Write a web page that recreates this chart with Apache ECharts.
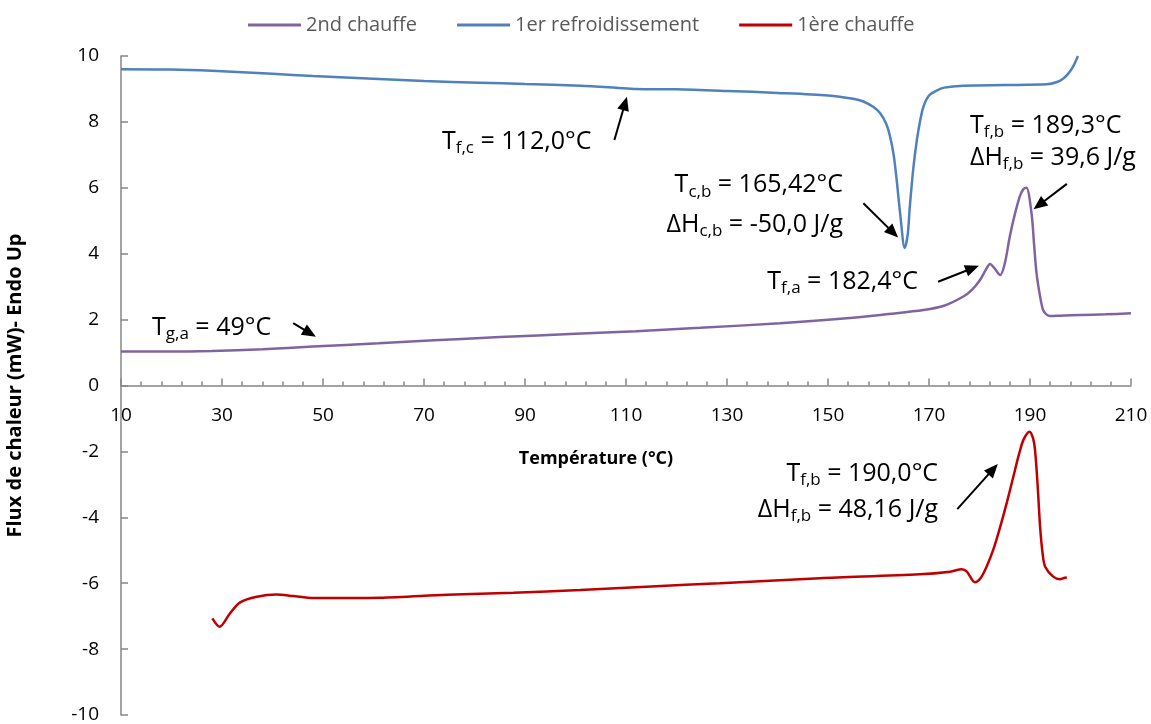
<!DOCTYPE html>
<html>
<head>
<meta charset="utf-8">
<script src="https://cdn.jsdelivr.net/npm/echarts@6/dist/echarts.min.js"></script>
<style>
html,body{margin:0;padding:0;background:#fff;}
#chart{width:1151px;height:724px;}
</style>
</head>
<body>
<div id="chart"></div>
<script>
// ---- Data ----
const seriesNames = ['2nd chauffe', '1er refroidissement', '1ère chauffe'];

// 2nd chauffe (purple)
const chauffe2T = [10, 20, 28, 38, 48, 61, 72, 85, 100, 112, 124.7, 140.5, 153.7, 162, 168.9, 173, 176.8, 178.5, 180.1, 181.2, 182.1, 183, 184.1, 185, 186, 187, 188, 188.7, 189.3, 190.3, 190.8, 191.3, 192, 192.6, 193.3, 194, 196, 200, 205, 210];
const chauffe2Flux = [1.03, 1.03, 1.05, 1.10, 1.18, 1.28, 1.37, 1.47, 1.57, 1.65, 1.75, 1.89, 2.04, 2.17, 2.29, 2.42, 2.70, 2.90, 3.20, 3.50, 3.69, 3.55, 3.35, 3.70, 4.52, 5.20, 5.75, 5.96, 6.00, 5.23, 4.30, 3.40, 2.70, 2.29, 2.15, 2.11, 2.12, 2.14, 2.16, 2.19];

// 1er refroidissement (blue)
const refroidT = [10, 20, 28, 40, 48, 61, 70, 81, 90, 101, 108, 112, 120, 130, 140, 150, 155, 157, 159, 160.3, 161.5, 162.3, 163, 163.6, 164.3, 165.2, 165.8, 166.2, 166.9, 167.6, 168.2, 168.9, 170, 171.5, 173, 176.8, 185, 193.3, 195.5, 196.6, 197.5, 198.5, 199.5];
const refroidFlux = [9.60, 9.59, 9.55, 9.46, 9.39, 9.30, 9.24, 9.19, 9.15, 9.10, 9.04, 9.00, 8.99, 8.94, 8.88, 8.80, 8.70, 8.62, 8.45, 8.27, 7.95, 7.55, 7.00, 6.24, 5.20, 4.17, 4.60, 5.43, 6.60, 7.45, 8.00, 8.46, 8.80, 8.95, 9.04, 9.10, 9.12, 9.14, 9.22, 9.32, 9.45, 9.67, 10.0];

// 1ère chauffe (red)
const chauffe1T = [28.1, 29.5, 31.6, 33.6, 36.9, 40.8, 44.1, 48.1, 61.3, 74.5, 87.7, 100.9, 115, 128.6, 148.4, 168.2, 174.2, 176.5, 177.5, 179.1, 180.2, 181.4, 182.8, 184.1, 185.5, 186.7, 187.8, 188.7, 189.9, 190.6, 191.0, 191.5, 192.0, 192.5, 193.0, 194.6, 196.0, 196.6, 197.3];
const chauffe1Flux = [-7.07, -7.32, -6.91, -6.58, -6.41, -6.34, -6.39, -6.45, -6.44, -6.35, -6.29, -6.21, -6.10, -6.00, -5.85, -5.73, -5.65, -5.58, -5.65, -5.97, -5.85, -5.50, -4.95, -4.29, -3.50, -2.77, -2.10, -1.65, -1.40, -1.60, -1.96, -3.00, -4.29, -5.10, -5.50, -5.80, -5.88, -5.85, -5.83];

// Axis ticks
const xMin = 10, xMax = 210, xStep = 20;
const yMin = -10, yMax = 10, yStep = 2;

// Annotation texts: [rich text, anchor T, anchor flux, align]
const annotTexts = [
  ['{m|T}{s|g,a}{m| = 49°C}', 16.14, 1.745, 'left'],
  ['{m|T}{s|f,c}{m| = 112,0°C}', 73.56, 7.39, 'left'],
  ['{m|T}{s|c,b}{m| = 165,42°C}', 152.97, 6.08, 'right'],
  ['{m|ΔH}{s|c,b}{m| = -50,0 J/g}', 152.97, 4.87, 'right'],
  ['{m|T}{s|f,a}{m| = 182,4°C}', 167.82, 3.14, 'right'],
  ['{m|T}{s|f,b}{m| = 189,3°C}', 178.1, 7.88, 'left'],
  ['{m|ΔH}{s|f,b}{m| = 39,6 J/g}', 178.1, 6.90, 'left'],
  ['{m|T}{s|f,b}{m| = 190,0°C}', 171.8, -2.69, 'right'],
  ['{m|ΔH}{s|f,b}{m| = 48,16 J/g}', 171.8, -3.78, 'right']
];
// Annotation arrows: [tail T, tail flux, tip T, tip flux]
const annotArrows = [
  [44.1, 1.89, 47.4, 1.59],
  [107.7, 7.45, 109.8, 8.56],
  [157.0, 5.53, 162.9, 4.64],
  [171.8, 3.15, 178.6, 3.56],
  [197.3, 6.12, 191.8, 5.48],
  [175.6, -3.75, 182.7, -2.54]
];

const colors = ['#8064A2', '#4F81BD', '#C00000'];
const FONT = 'Open Sans';

function pairs(xs, ys) { return xs.map((x, i) => [x, ys[i]]); }

const chart = echarts.init(document.getElementById('chart'), null, {renderer: 'canvas'});

const lineCommon = {
  type: 'line', showSymbol: false, symbol: 'none', smooth: 0.3,
  animation: false, silent: true
};

chart.setOption({
  animation: false,
  backgroundColor: '#fff',
  color: colors,
  legend: {
    data: seriesNames,
    top: 10, left: 243,
    itemWidth: 53, itemHeight: 3, itemGap: 40,
    icon: 'rect',
    textStyle: {fontFamily: FONT, fontSize: 20, color: '#595959'}
  },
  grid: {left: 121, right: 20, top: 56, bottom: 9, containLabel: false, outerBoundsMode: 'none'},
  xAxis: {
    type: 'value', min: xMin, max: xMax, interval: xStep, position: 'bottom', offset: 0,
    name: 'Température (°C)', nameLocation: 'middle', nameGap: 64,
    nameTextStyle: {fontFamily: FONT, fontSize: 18, fontWeight: 'bold', color: '#000', padding: [0, 60, 0, 0]},
    axisLine: {onZero: false, lineStyle: {color: '#868686', width: 1.5}},
    axisTick: {show: true, inside: true, length: 7, lineStyle: {color: '#868686', width: 1.5}},
    minorTick: {show: true, splitNumber: 5, length: 4, lineStyle: {color: '#868686', width: 1.5}},
    axisLabel: {fontFamily: FONT, fontSize: 19, color: '#000', margin: 21},
    splitLine: {show: false}
  },
  yAxis: {
    type: 'value', min: yMin, max: yMax, interval: yStep,
    name: 'Flux de chaleur (mW)- Endo Up', nameLocation: 'middle', nameGap: 96,
    nameTextStyle: {fontFamily: FONT, fontSize: 20, fontWeight: 'bold', color: '#000'},
    axisLine: {show: true, onZero: false, lineStyle: {color: '#868686', width: 1.5}},
    axisTick: {show: true, inside: true, length: 7, lineStyle: {color: '#868686', width: 1.5}},
    axisLabel: {fontFamily: FONT, fontSize: 19, color: '#000', margin: 22},
    splitLine: {show: false}
  },
  series: [
    Object.assign({}, lineCommon, {
      name: seriesNames[0], data: pairs(chauffe2T, chauffe2Flux),
      lineStyle: {color: colors[0], width: 2.5},
      markLine: {
        silent: true, animation: false,
        symbol: ['none', 'triangle'], symbolSize: [12, 14],
        label: {show: false},
        lineStyle: {color: '#000', width: 2, type: 'solid'},
        itemStyle: {color: '#000'},
        emphasis: {disabled: true},
        data: annotArrows.map(a => [{coord: [a[0], a[1]]}, {coord: [a[2], a[3]]}])
      }
    }),
    Object.assign({}, lineCommon, {
      name: seriesNames[1], data: pairs(refroidT, refroidFlux),
      lineStyle: {color: colors[1], width: 2.5}
    }),
    Object.assign({}, lineCommon, {
      name: seriesNames[2], data: pairs(chauffe1T, chauffe1Flux),
      lineStyle: {color: colors[2], width: 2.5}
    })
  ]
});

// Move the x axis onto flux = 0 using the chart's own y scale
const yZeroPx = chart.convertToPixel({yAxisIndex: 0}, 0);
const yBottomPx = chart.convertToPixel({yAxisIndex: 0}, yMin);
chart.setOption({xAxis: {offset: -(yBottomPx - yZeroPx)}});

// Text annotations positioned through the chart's own scales
const graphics = annotTexts.map(a => {
  const p = chart.convertToPixel({xAxisIndex: 0, yAxisIndex: 0}, [a[1], a[2]]);
  return {
    type: 'text', x: p[0], y: p[1], silent: true,
    style: {
      text: a[0], align: a[3], verticalAlign: 'middle',
      fontFamily: FONT, fill: '#000',
      rich: {
        m: {fontFamily: FONT, fontSize: 25, lineHeight: 30, fill: '#000'},
        s: {fontFamily: FONT, fontSize: 17, lineHeight: 17, padding: [13, 0, 0, 0], fill: '#000'}
      }
    }
  };
});
chart.setOption({graphic: graphics});
</script>
</body>
</html>
